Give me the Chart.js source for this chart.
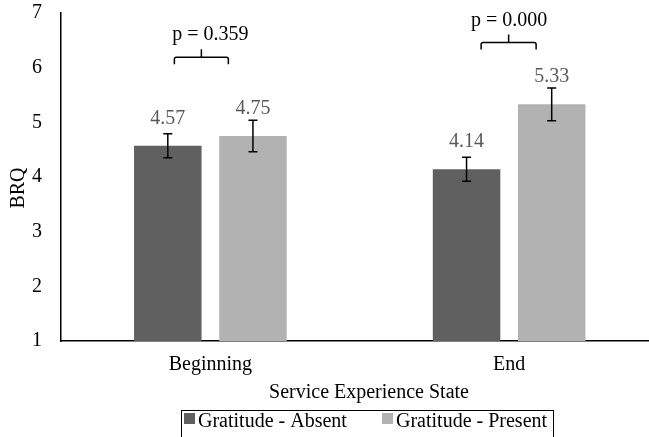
<!DOCTYPE html>
<html>
<head>
<meta charset="utf-8">
<script src="https://cdn.jsdelivr.net/npm/chart.js@4.4.1/dist/chart.umd.min.js"></script>
<style>
  html, body { margin: 0; padding: 0; background: #fff; }
  #wrap { width: 649px; height: 437px; overflow: hidden; position: relative; }
  canvas { display: block; }
</style>
</head>
<body>
<div id="wrap"><canvas id="c" width="670" height="437"></canvas></div>
<script>
// ---- data ----
const categories = ['Beginning', 'End'];
const seriesNames = ['Gratitude - Absent', 'Gratitude - Present'];
const absentMeans = [4.57, 4.14];
const presentMeans = [4.75, 5.33];
const absentErrors = [0.22, 0.22];
const presentErrors = [0.29, 0.30];
const pValueLabels = ['p = 0.359', 'p = 0.000'];
const bracketLevels = [6.19, 6.46];
const yTicks = [1, 2, 3, 4, 5, 6, 7];

// ---- style ----
const FONT = "'Liberation Serif', 'Times New Roman', serif";
const ABSENT_COLOR = '#606060';
const PRESENT_COLOR = '#b2b2b2';
const LABEL_COLOR = '#595959';
// horizontal extent of each comparison bracket, px relative to the category centre
const BRACKET_SPAN = [[-36, 18], [-28, 27]];

const errorSets = [absentErrors, presentErrors];

const overlayPlugin = {
  id: 'overlay',
  afterDatasetsDraw(chart) {
    const ctx = chart.ctx;
    const y = chart.scales.y;
    const x = chart.scales.x;
    ctx.save();

    // error bars
    ctx.strokeStyle = '#000';
    ctx.lineWidth = 1.5;
    chart.data.datasets.forEach((ds, d) => {
      const meta = chart.getDatasetMeta(d);
      meta.data.forEach((bar, i) => {
        const v = ds.data[i];
        const e = errorSets[d][i];
        const top = y.getPixelForValue(v + e);
        const bot = y.getPixelForValue(v - e);
        ctx.beginPath();
        ctx.moveTo(bar.x, top); ctx.lineTo(bar.x, bot);
        ctx.moveTo(bar.x - 4.5, top); ctx.lineTo(bar.x + 4.5, top);
        ctx.moveTo(bar.x - 4.5, bot); ctx.lineTo(bar.x + 4.5, bot);
        ctx.stroke();
      });
    });

    // value labels
    ctx.font = '20px ' + FONT;
    ctx.fillStyle = LABEL_COLOR;
    ctx.textAlign = 'center';
    ctx.textBaseline = 'alphabetic';
    chart.data.datasets.forEach((ds, d) => {
      const meta = chart.getDatasetMeta(d);
      meta.data.forEach((bar, i) => {
        ctx.fillText(ds.data[i].toFixed(2), bar.x, bar.y - 22);
      });
    });

    // comparison brackets with p-values
    ctx.strokeStyle = '#000';
    ctx.lineWidth = 1.5;
    ctx.fillStyle = '#000';
    categories.forEach((c, i) => {
      const cx = x.getPixelForValue(i);
      const by = y.getPixelForValue(bracketLevels[i]);
      const x0 = cx + BRACKET_SPAN[i][0];
      const x1 = cx + BRACKET_SPAN[i][1];
      const mid = (x0 + x1) / 2;
      ctx.beginPath();
      ctx.moveTo(x0, by + 7);
      ctx.lineTo(x0, by + 2);
      ctx.quadraticCurveTo(x0, by, x0 + 2, by);
      ctx.lineTo(x1 - 2, by);
      ctx.quadraticCurveTo(x1, by, x1, by + 2);
      ctx.lineTo(x1, by + 7);
      ctx.moveTo(mid, by);
      ctx.lineTo(mid, by - 8);
      ctx.stroke();
      ctx.fillText(pValueLabels[i], cx, by - 17);
    });
    ctx.restore();
  },
  afterDraw(chart) {
    const ctx = chart.ctx;
    ctx.save();
    ctx.font = '20px ' + FONT;
    ctx.fillStyle = '#000';
    ctx.textBaseline = 'alphabetic';

    // axis titles
    ctx.textAlign = 'center';
    ctx.fillText('Service Experience State', 369, 398);
    ctx.save();
    ctx.translate(24, 188);
    ctx.rotate(-Math.PI / 2);
    ctx.fillText('BRQ', 0, 0);
    ctx.restore();

    // legend
    ctx.strokeStyle = '#000';
    ctx.lineWidth = 1;
    ctx.strokeRect(181.5, 410.5, 372, 40);
    const items = [
      { x: 184, color: ABSENT_COLOR, text: seriesNames[0] },
      { x: 382, color: PRESENT_COLOR, text: seriesNames[1] }
    ];
    ctx.textAlign = 'left';
    items.forEach(it => {
      ctx.fillStyle = it.color;
      ctx.fillRect(it.x, 413, 11, 11);
      ctx.fillStyle = '#000';
      ctx.fillText(it.text, it.x + 14, 427);
    });
    ctx.restore();
  }
};

new Chart(document.getElementById('c'), {
  type: 'bar',
  data: {
    labels: categories,
    datasets: [
      { label: seriesNames[0], data: absentMeans, backgroundColor: ABSENT_COLOR },
      { label: seriesNames[1], data: presentMeans, backgroundColor: PRESENT_COLOR }
    ]
  },
  options: {
    responsive: false,
    animation: false,
    devicePixelRatio: 1,
    categoryPercentage: 0.57,
    barPercentage: 0.793,
    layout: { padding: { top: 13, right: 11.5, left: 0, bottom: 0 } },
    plugins: {
      legend: { display: false },
      tooltip: { enabled: false }
    },
    scales: {
      x: {
        grid: { display: false, drawTicks: false },
        border: { display: true, color: '#000', width: 1.5 },
        ticks: { color: '#000', font: { family: FONT, size: 20 }, padding: 12 },
        afterFit(s) { s.height = 96; s.paddingLeft = 0; s.paddingRight = 0; }
      },
      y: {
        min: 1,
        max: 7,
        grid: { display: false, drawTicks: false },
        border: { display: true, color: '#000', width: 1.5 },
        ticks: { color: '#000', font: { family: FONT, size: 20 }, padding: 19, stepSize: 1 },
        afterBuildTicks(s) { s.ticks = yTicks.map(v => ({ value: v })); },
        afterFit(s) { s.width = 61; s.paddingTop = 0; s.paddingBottom = 0; }
      }
    }
  },
  plugins: [overlayPlugin]
});
</script>
</body>
</html>
